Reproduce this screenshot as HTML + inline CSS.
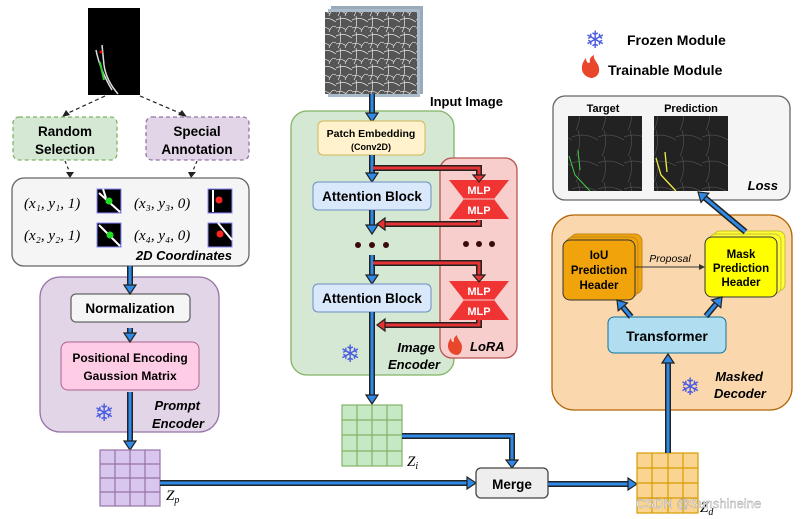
<!DOCTYPE html>
<html><head><meta charset="utf-8"><style>
html,body{margin:0;padding:0;background:#fff}
svg{display:block}
text{font-family:"Liberation Sans","DejaVu Sans",sans-serif;font-weight:bold}
.m{font-family:"Liberation Serif",serif;font-weight:normal;font-style:italic}
</style></head><body>
<svg width="805" height="519" viewBox="0 0 805 519" xmlns="http://www.w3.org/2000/svg">
<defs>
<g id="bdn"><line x1="0" y1="-14" x2="0" y2="-8" stroke="#222" stroke-width="6"/><line x1="0" y1="-14" x2="0" y2="-7" stroke="#2e8ae6" stroke-width="3"/><polygon points="-6,-9 6,-9 0,0" fill="#2e8ae6" stroke="#222" stroke-width="1.2"/></g>
<pattern id="ret" width="26" height="26" patternUnits="userSpaceOnUse"><rect width="26" height="26" fill="#222"/><path d="M0 7 Q13 2 26 10 M6 0 Q10 14 4 26" stroke="#555" stroke-width="0.6" fill="none"/></pattern>
<pattern id="ret2" width="16" height="16" patternUnits="userSpaceOnUse"><rect width="16" height="16" fill="#555"/><path d="M0 4 Q8 0 16 6 M4 0 Q6 9 2 16 M9 16 Q12 8 16 11 M0 12 Q6 10 10 14" stroke="#e8e8e8" stroke-width="0.7" fill="none"/></pattern>
</defs>

<!-- legend -->
<text x="585" y="48" font-size="24" fill="#4a5ce0" style="font-weight:normal">❄</text>
<text x="627" y="45" font-size="14">Frozen Module</text>
<path d="M591 78 C581 76 579 66 586 58 C586 63 589 64 590 62 C589 58 592 56 594 55 C593 60 598 62 599 68 C600 74 596 78 591 78 Z" fill="#e8472b"/>
<text x="608" y="75" font-size="14">Trainable Module</text>

<!-- top-left mask image -->
<rect x="88" y="8" width="52" height="87" fill="#000"/>
<path d="M96 50 Q100 70 112 90 M102 45 L104 65 Q106 80 118 94" stroke="#ddd" stroke-width="1.5" fill="none"/>
<path d="M100 62 L104 80" stroke="#3c3" stroke-width="2" fill="none"/>
<circle cx="101" cy="52" r="1.5" fill="#f00"/>
<line x1="105" y1="96" x2="66" y2="114" stroke="#222" stroke-width="1.2" stroke-dasharray="4,3"/>
<polygon points="62,117 66,110 70,115" fill="#222"/>
<line x1="140" y1="96" x2="182" y2="114" stroke="#222" stroke-width="1.2" stroke-dasharray="4,3"/>
<polygon points="187,117 178,115 182,110" fill="#222"/>

<rect x="13" y="117" width="104" height="43" rx="6" fill="#d5e8d4" stroke="#82b366" stroke-width="1.3" stroke-dasharray="4,3"/>
<text x="65" y="136" font-size="13.5" text-anchor="middle">Random</text>
<text x="65" y="154" font-size="13.5" text-anchor="middle">Selection</text>
<rect x="146" y="117" width="103" height="43" rx="6" fill="#e1d5e7" stroke="#9673a6" stroke-width="1.3" stroke-dasharray="4,3"/>
<text x="197" y="136" font-size="13.5" text-anchor="middle">Special</text>
<text x="197" y="154" font-size="13.5" text-anchor="middle">Annotation</text>
<line x1="65" y1="161" x2="70" y2="173" stroke="#222" stroke-width="1.2" stroke-dasharray="3,3"/>
<polygon points="66,172 74,172 70,178" fill="#222"/>
<line x1="197" y1="161" x2="192" y2="173" stroke="#222" stroke-width="1.2" stroke-dasharray="3,3"/>
<polygon points="188,172 196,172 191,178" fill="#222"/>

<!-- coordinates box -->
<rect x="12" y="178" width="237" height="88" rx="12" fill="#f5f5f5" stroke="#666" stroke-width="1.3"/>
<text x="24" y="208" font-size="15" class="m">(x₁, y₁, 1)</text>
<text x="24" y="240" font-size="15" class="m">(x₂, y₂, 1)</text>
<text x="134" y="208" font-size="15" class="m">(x₃, y₃, 0)</text>
<text x="134" y="240" font-size="15" class="m">(x₄, y₄, 0)</text>
<g stroke="#88f" stroke-width="1">
<rect x="97" y="189" width="24" height="24" fill="#000"/>
<rect x="97" y="223" width="24" height="24" fill="#000"/>
<rect x="208" y="189" width="24" height="24" fill="#000"/>
<rect x="208" y="223" width="24" height="24" fill="#000"/>
</g>
<path d="M99 193 L120 212 M103 189 L106 198 M99 225 L120 246 M213 190 L213 212 M218 223 L232 240" stroke="#fff" stroke-width="2"/>
<circle cx="109" cy="201" r="3.5" fill="#2d2"/><circle cx="110" cy="235" r="3.5" fill="#2d2"/>
<circle cx="219" cy="200" r="3.5" fill="#f22"/><circle cx="220" cy="234" r="3.5" fill="#f22"/>
<text x="232" y="260" font-size="13" text-anchor="end" font-style="italic">2D Coordinates</text>

<!-- prompt encoder -->
<rect x="40" y="277" width="179" height="155" rx="20" fill="#e1d5e7" stroke="#9673a6" stroke-width="1.3"/>
<rect x="71" y="294" width="119" height="28" rx="5" fill="#f5f5f5" stroke="#666" stroke-width="1.3"/>
<text x="130" y="313" font-size="13.5" text-anchor="middle">Normalization</text>
<rect x="61" y="342" width="138" height="48" rx="7" fill="#ffcce6" stroke="#b06090" stroke-width="1"/>
<text x="130" y="362" font-size="12" text-anchor="middle">Positional Encoding</text>
<text x="130" y="380" font-size="12" text-anchor="middle">Gaussion Matrix</text>
<text x="94" y="421" font-size="24" fill="#4a5ce0" style="font-weight:normal">❄</text>
<text x="200" y="410" font-size="13" text-anchor="end" font-style="italic">Prompt</text>
<text x="204" y="428" font-size="13" text-anchor="end" font-style="italic">Encoder</text>
<g transform="translate(130,294)"><line x1="0" y1="-28" x2="0" y2="-8" stroke="#222" stroke-width="6"/><line x1="0" y1="-28" x2="0" y2="-7" stroke="#2e8ae6" stroke-width="3"/><polygon points="-6,-9 6,-9 0,0" fill="#2e8ae6" stroke="#222" stroke-width="1.2"/></g>
<use href="#bdn" x="130" y="342"/>
<g transform="translate(130,450)"><line x1="0" y1="-58" x2="0" y2="-8" stroke="#222" stroke-width="6"/><line x1="0" y1="-58" x2="0" y2="-7" stroke="#2e8ae6" stroke-width="3"/><polygon points="-6,-9 6,-9 0,0" fill="#2e8ae6" stroke="#222" stroke-width="1.2"/></g>

<!-- Zp grid -->
<g stroke="#9673a6" stroke-width="1.2" fill="#d9c6ef">
<rect x="100" y="450" width="60" height="56"/>
<path d="M115 450V506M130 450V506M145 450V506M100 464H160M100 478H160M100 492H160" fill="none"/>
</g>
<text x="166" y="500" font-size="15" class="m">Z<tspan font-size="10" dy="3">p</tspan></text>
<line x1="160" y1="483" x2="468" y2="483" stroke="#222" stroke-width="6"/><line x1="160" y1="483" x2="469" y2="483" stroke="#2e8ae6" stroke-width="3"/>
<polygon points="467,477 467,489 476,483" fill="#2e8ae6" stroke="#222" stroke-width="1.2"/>

<!-- input image -->
<rect x="331" y="6" width="92" height="88" fill="#9ab"/>
<rect x="328" y="9" width="92" height="88" fill="#abc"/>
<rect x="325" y="12" width="92" height="82" fill="url(#ret2)"/>
<text x="430" y="106" font-size="13">Input Image</text>

<!-- image encoder -->
<rect x="291" y="111" width="163" height="264" rx="16" fill="#d5e8d4" stroke="#82b366" stroke-width="1.3"/>
<rect x="440" y="158" width="77" height="200" rx="12" fill="#f8cecc" stroke="#b85450" stroke-width="1.3"/>
<g transform="translate(372,122)"><line x1="0" y1="-28" x2="0" y2="-8" stroke="#222" stroke-width="6"/><line x1="0" y1="-28" x2="0" y2="-7" stroke="#2e8ae6" stroke-width="3"/><polygon points="-6,-9 6,-9 0,0" fill="#2e8ae6" stroke="#222" stroke-width="1.2"/></g>
<rect x="318" y="121" width="107" height="34" rx="5" fill="#fff2cc" stroke="#d6b656" stroke-width="1"/>
<text x="371" y="137" font-size="10.5" text-anchor="middle">Patch Embedding</text>
<text x="371" y="150" font-size="9" text-anchor="middle">(Conv2D)</text>
<g transform="translate(372,182)"><line x1="0" y1="-27" x2="0" y2="-8" stroke="#222" stroke-width="6"/><line x1="0" y1="-27" x2="0" y2="-7" stroke="#2e8ae6" stroke-width="3"/><polygon points="-6,-9 6,-9 0,0" fill="#2e8ae6" stroke="#222" stroke-width="1.2"/></g>
<rect x="313" y="182" width="118" height="28" rx="5" fill="#dae8fc" stroke="#6c8ebf" stroke-width="1"/>
<text x="372" y="201" font-size="13.5" text-anchor="middle">Attention Block</text>
<g transform="translate(372,234)"><line x1="0" y1="-24" x2="0" y2="-8" stroke="#222" stroke-width="6"/><line x1="0" y1="-24" x2="0" y2="-7" stroke="#2e8ae6" stroke-width="3"/><polygon points="-6,-9 6,-9 0,0" fill="#2e8ae6" stroke="#222" stroke-width="1.2"/></g>
<g fill="#3a0a0a"><circle cx="358" cy="245" r="3"/><circle cx="372" cy="245" r="3"/><circle cx="386" cy="245" r="3"/><circle cx="466" cy="244" r="3"/><circle cx="479" cy="244" r="3"/><circle cx="492" cy="244" r="3"/></g>
<g transform="translate(372,284)"><line x1="0" y1="-29" x2="0" y2="-8" stroke="#222" stroke-width="6"/><line x1="0" y1="-29" x2="0" y2="-7" stroke="#2e8ae6" stroke-width="3"/><polygon points="-6,-9 6,-9 0,0" fill="#2e8ae6" stroke="#222" stroke-width="1.2"/></g>
<rect x="313" y="284" width="118" height="28" rx="5" fill="#dae8fc" stroke="#6c8ebf" stroke-width="1"/>
<text x="372" y="303" font-size="13.5" text-anchor="middle">Attention Block</text>
<g transform="translate(372,404)"><line x1="0" y1="-92" x2="0" y2="-8" stroke="#222" stroke-width="6"/><line x1="0" y1="-92" x2="0" y2="-7" stroke="#2e8ae6" stroke-width="3"/><polygon points="-6,-9 6,-9 0,0" fill="#2e8ae6" stroke="#222" stroke-width="1.2"/></g>

<!-- MLP -->
<g fill="#f03333">
<polygon points="449,180 509,180 494,199 509,219 449,219 464,199"/>
<polygon points="449,281 509,281 494,300 509,320 449,320 464,300"/>
</g>
<line x1="464" y1="199" x2="494" y2="199" stroke="#f8cecc" stroke-width="1"/>
<line x1="464" y1="300" x2="494" y2="300" stroke="#f8cecc" stroke-width="1"/>
<g fill="#fff" font-size="11" text-anchor="middle"><text x="479" y="194">MLP</text><text x="479" y="214">MLP</text><text x="479" y="295">MLP</text><text x="479" y="315">MLP</text></g>
<g fill="none" stroke-linejoin="miter">
<path d="M373 168 H479 V176" stroke="#222" stroke-width="6"/><path d="M373 168 H479 V177" stroke="#e53333" stroke-width="3"/>
<path d="M479 220 V224 H384" stroke="#222" stroke-width="6"/><path d="M479 220 V224 H383" stroke="#e53333" stroke-width="3"/>
<path d="M373 263 H479 V276" stroke="#222" stroke-width="6"/><path d="M373 263 H479 V277" stroke="#e53333" stroke-width="3"/>
<path d="M479 320 V325 H384" stroke="#222" stroke-width="6"/><path d="M479 320 V325 H383" stroke="#e53333" stroke-width="3"/>
</g>
<g fill="#e53333" stroke="#222" stroke-width="1.2">
<polygon points="473,175 485,175 479,182"/><polygon points="473,275 485,275 479,282"/>
<polygon points="385,218 385,230 377,224"/><polygon points="385,319 385,331 377,325"/>
</g>
<text x="340" y="362" font-size="24" fill="#4a5ce0" style="font-weight:normal">❄</text>
<text x="435" y="352" font-size="13" text-anchor="end" font-style="italic">Image</text>
<text x="440" y="369" font-size="13" text-anchor="end" font-style="italic">Encoder</text>
<path d="M456 355 C447 353 446 344 451 338 C451 342 454 343 454 341 C453 338 456 336 457 335 C457 339 461 341 462 346 C462 352 460 355 456 355 Z" fill="#e8472b"/>
<text x="470" y="351" font-size="13" font-style="italic">LoRA</text>

<!-- Zi grid -->
<g stroke="#82b366" stroke-width="1.2" fill="#c6e8c4">
<rect x="342" y="405" width="60" height="61"/>
<path d="M357 405V466M372 405V466M387 405V466M342 420H402M342 435H402M342 451H402" fill="none"/>
</g>
<text x="407" y="466" font-size="15" class="m">Z<tspan font-size="10" dy="3">i</tspan></text>
<path d="M402 436 H512 V460" stroke="#222" stroke-width="6" fill="none"/><path d="M402 436 H512 V461" stroke="#2e8ae6" stroke-width="3" fill="none"/>
<polygon points="506,460 518,460 512,468" fill="#2e8ae6" stroke="#222" stroke-width="1.2"/>

<!-- Merge -->
<rect x="476" y="468" width="72" height="30" rx="5" fill="#eee" stroke="#444" stroke-width="1.3"/>
<text x="512" y="489" font-size="13.5" text-anchor="middle">Merge</text>
<line x1="548" y1="484" x2="629" y2="484" stroke="#222" stroke-width="6"/><line x1="548" y1="484" x2="630" y2="484" stroke="#2e8ae6" stroke-width="3"/>
<polygon points="628,478 628,490 637,484" fill="#2e8ae6" stroke="#222" stroke-width="1.2"/>

<!-- Zd grid -->
<g stroke="#d79b00" stroke-width="1.2" fill="#fad491">
<rect x="637" y="453" width="61" height="60"/>
<path d="M652 453V513M668 453V513M683 453V513M637 468H698M637 483H698M637 498H698" fill="none"/>
</g>
<text x="700" y="512" font-size="15" class="m">Z<tspan font-size="10" dy="3">d</tspan></text>
<text x="636" y="508" font-size="13" fill="#fff" stroke="#999" stroke-width="0.4" style="font-weight:normal">CSDN @Sunshineine</text>

<!-- masked decoder -->
<rect x="552" y="215" width="240" height="195" rx="22" fill="#fad7ac" stroke="#b46504" stroke-width="1.3"/>
<g transform="translate(668,354) rotate(180)"><line x1="0" y1="-99" x2="0" y2="-8" stroke="#222" stroke-width="6"/><line x1="0" y1="-99" x2="0" y2="-7" stroke="#2e8ae6" stroke-width="3"/><polygon points="-6,-9 6,-9 0,0" fill="#2e8ae6" stroke="#222" stroke-width="1.2"/></g>
<rect x="570" y="234" width="72" height="60" rx="7" fill="#f0a30a" stroke="#c08a20" stroke-width="1"/>
<rect x="566" y="237" width="72" height="60" rx="7" fill="#f0a30a" stroke="#c08a20" stroke-width="1"/>
<rect x="563" y="240" width="72" height="60" rx="7" fill="#f0a30a" stroke="#333" stroke-width="1"/>
<text x="599" y="259" font-size="11.5" text-anchor="middle">IoU</text>
<text x="599" y="274" font-size="11.5" text-anchor="middle">Prediction</text>
<text x="599" y="289" font-size="11.5" text-anchor="middle">Header</text>
<rect x="713" y="231" width="72" height="60" rx="7" fill="#ffff33" stroke="#c8c030" stroke-width="1"/>
<rect x="709" y="234" width="72" height="60" rx="7" fill="#ffff33" stroke="#c8c030" stroke-width="1"/>
<rect x="705" y="237" width="72" height="60" rx="7" fill="#ffff00" stroke="#333" stroke-width="1"/>
<text x="741" y="258" font-size="11.5" text-anchor="middle">Mask</text>
<text x="741" y="272" font-size="11.5" text-anchor="middle">Prediction</text>
<text x="741" y="286" font-size="11.5" text-anchor="middle">Header</text>
<line x1="635" y1="267" x2="700" y2="267" stroke="#333" stroke-width="1"/>
<polygon points="699,264 705,267 699,270" fill="#333"/>
<text x="670" y="262" font-size="10.5" text-anchor="middle" font-style="italic" style="font-weight:normal">Proposal</text>
<rect x="608" y="317" width="118" height="36" rx="6" fill="#b1ddf0" stroke="#10739e" stroke-width="1"/>
<text x="667" y="341" font-size="14" text-anchor="middle">Transformer</text>
<g transform="translate(617,300) rotate(-40)"><line x1="0" y1="22" x2="0" y2="8" stroke="#222" stroke-width="6"/><line x1="0" y1="22" x2="0" y2="7" stroke="#2e8ae6" stroke-width="3"/><polygon points="-6,9 6,9 0,0" fill="#2e8ae6" stroke="#222" stroke-width="1.2"/></g>
<g transform="translate(722,297) rotate(40)"><line x1="0" y1="25" x2="0" y2="8" stroke="#222" stroke-width="6"/><line x1="0" y1="25" x2="0" y2="7" stroke="#2e8ae6" stroke-width="3"/><polygon points="-6,9 6,9 0,0" fill="#2e8ae6" stroke="#222" stroke-width="1.2"/></g>
<text x="680" y="395" font-size="24" fill="#4a5ce0" style="font-weight:normal">❄</text>
<text x="763" y="381" font-size="13" text-anchor="end" font-style="italic">Masked</text>
<text x="766" y="398" font-size="13" text-anchor="end" font-style="italic">Decoder</text>

<!-- loss -->
<rect x="553" y="96" width="237" height="104" rx="12" fill="#f5f5f5" stroke="#666" stroke-width="1.3"/>
<text x="603" y="112" font-size="11" text-anchor="middle">Target</text>
<text x="691" y="112" font-size="11" text-anchor="middle">Prediction</text>
<rect x="568" y="116" width="74" height="75" fill="url(#ret)"/>
<rect x="654" y="116" width="74" height="75" fill="url(#ret)"/>
<path d="M569 156 L575 175 L590 191 M578 150 L580 170" stroke="#4c4" stroke-width="1" fill="none"/>
<path d="M656 158 L661 175 L676 191 M665 152 L667 172" stroke="#ee4" stroke-width="1.3" fill="none"/>
<text x="778" y="190" font-size="13" text-anchor="end" font-style="italic">Loss</text>
<g transform="translate(698,192) rotate(-50)"><line x1="0" y1="62" x2="0" y2="8" stroke="#222" stroke-width="6"/><line x1="0" y1="62" x2="0" y2="7" stroke="#2e8ae6" stroke-width="3"/><polygon points="-6,9 6,9 0,0" fill="#2e8ae6" stroke="#222" stroke-width="1.2"/></g>
</svg>
</body></html>
